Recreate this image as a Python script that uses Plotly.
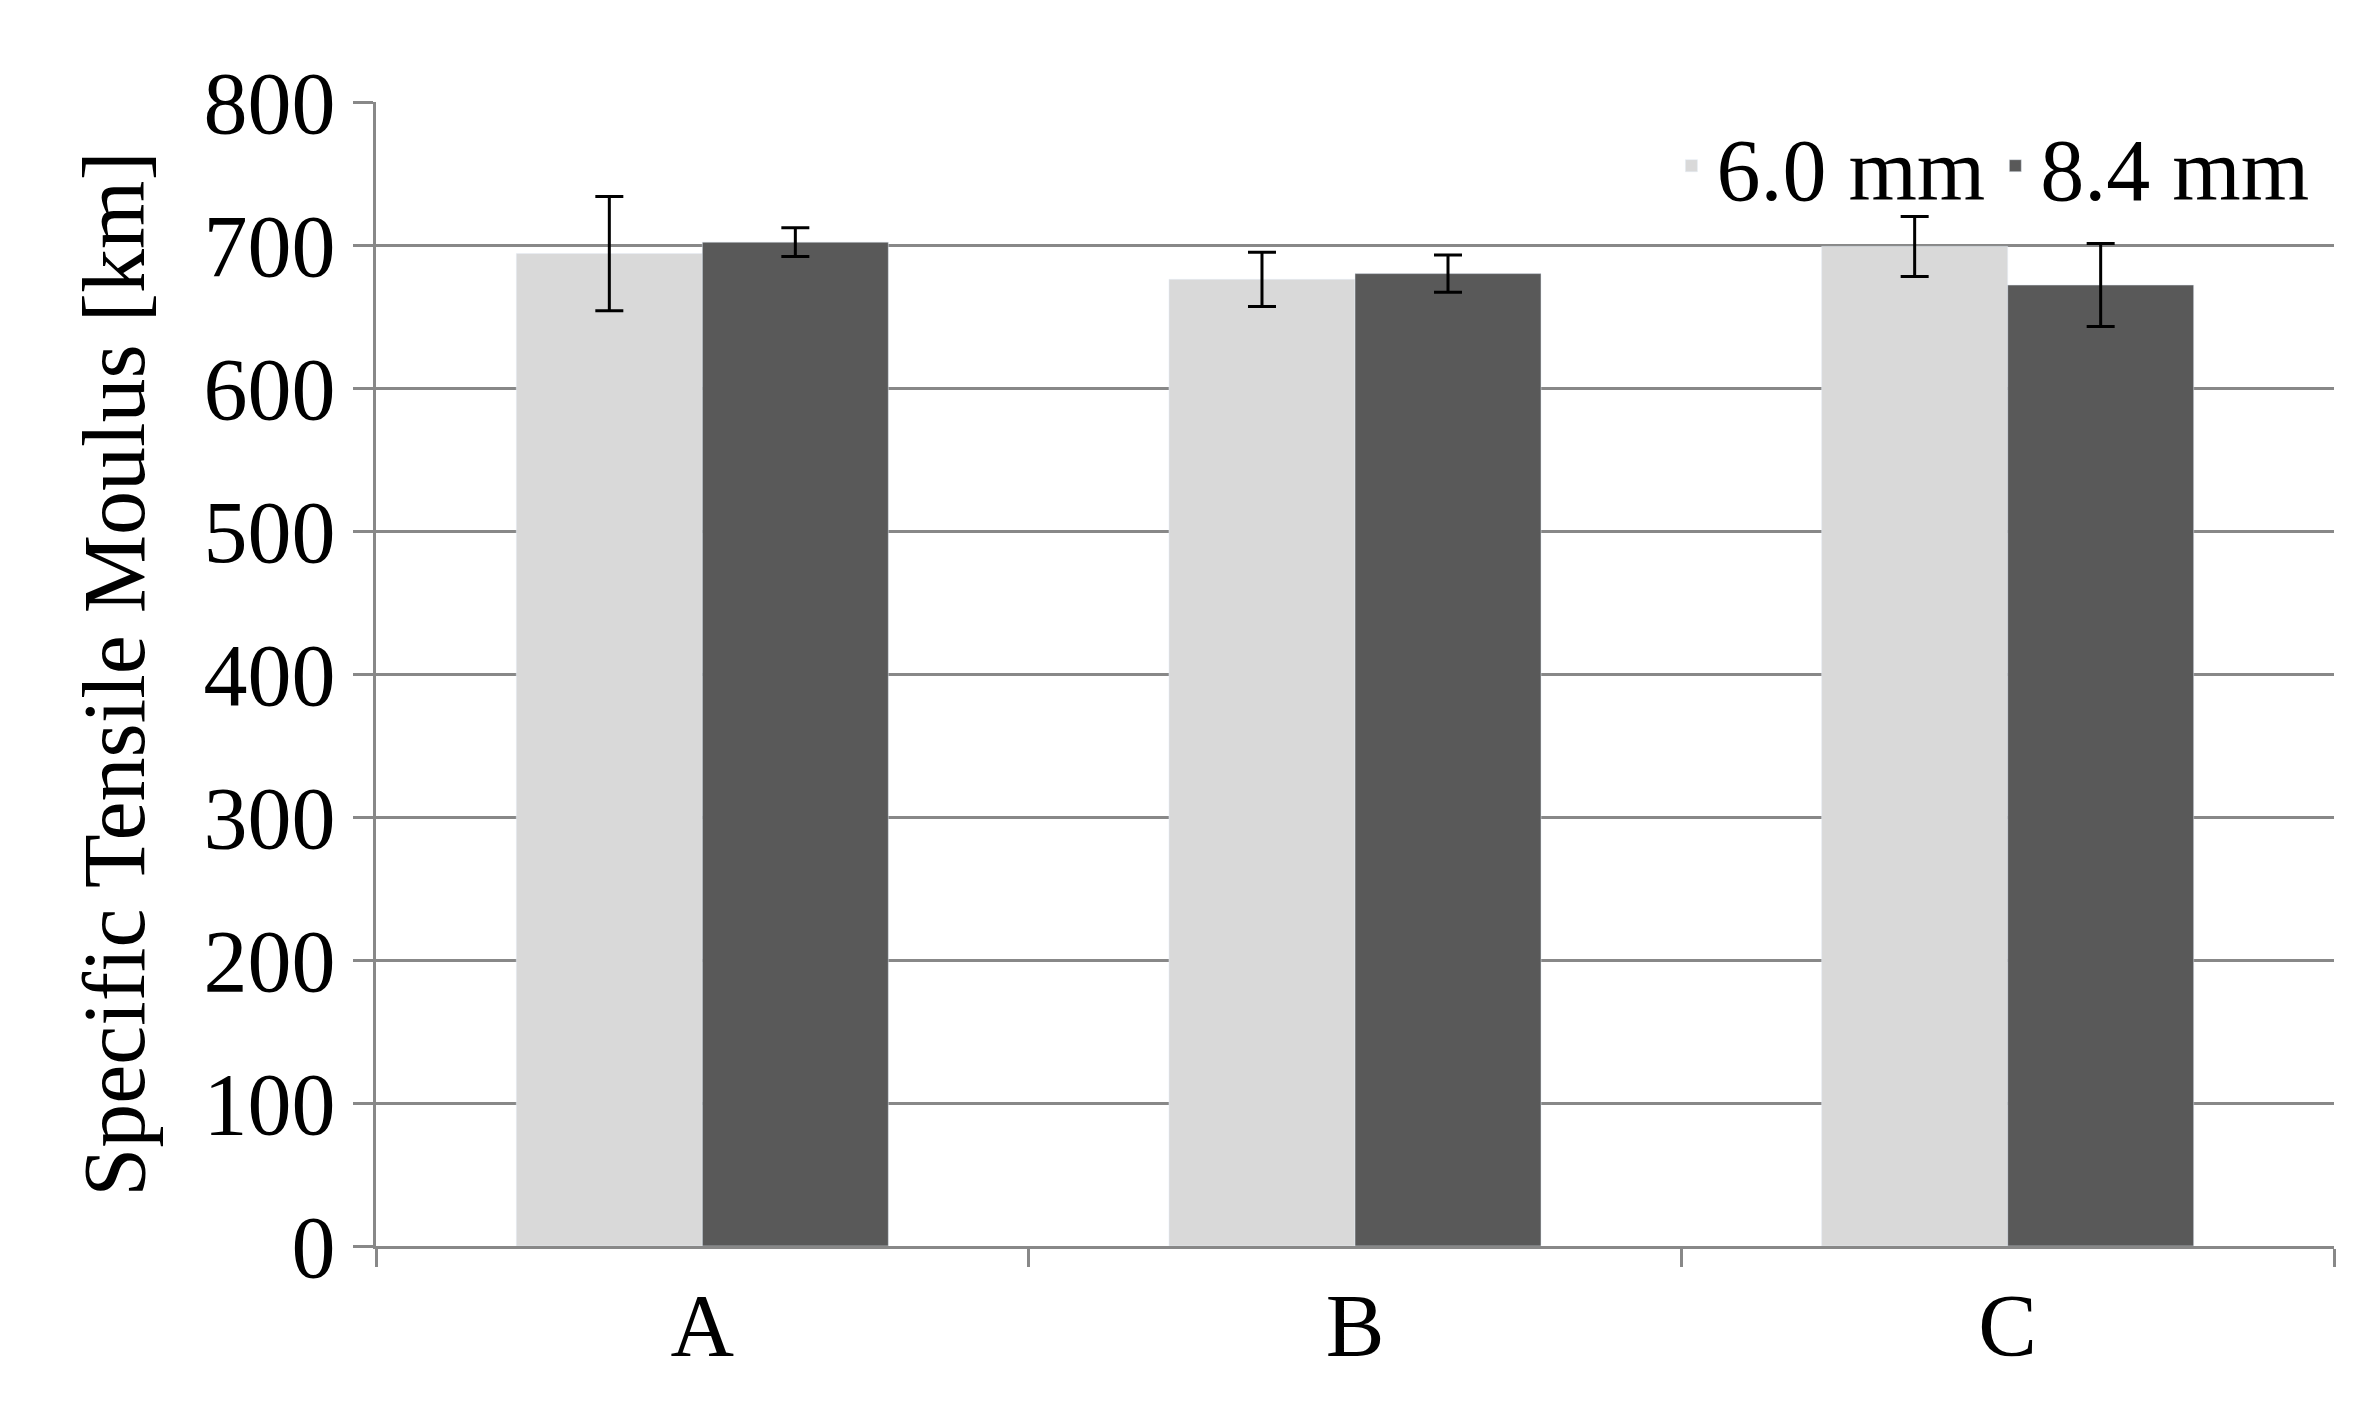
import plotly.graph_objects as go

categories = ["A", "B", "C"]
mean_60 = [694, 676, 699]
err_60 = [40, 19, 21]
mean_84 = [702, 680, 672]
err_84 = [10, 13, 29]

font = dict(family="Liberation Serif", size=88, color="black")
errstyle = dict(type="data", visible=True, color="black", thickness=3, width=14)

fig = go.Figure()
fig.add_trace(go.Bar(x=categories, y=mean_60, name="6.0 mm", marker_color="#d9d9d9",
                     error_y=dict(array=err_60, **errstyle)))
fig.add_trace(go.Bar(x=categories, y=mean_84, name="8.4 mm", marker_color="#595959",
                     error_y=dict(array=err_84, **errstyle)))

fig.update_layout(
    width=2364, height=1404,
    margin=dict(l=368, r=38, t=94, b=166),
    plot_bgcolor="white", paper_bgcolor="white",
    font=font,
    barmode="group", bargap=0.43, bargroupgap=0,
    legend=dict(orientation="h", x=0.99, xanchor="right", y=1.0, yanchor="top",
                font=font, bgcolor="rgba(0,0,0,0)", itemwidth=40),
)
fig.update_xaxes(showline=True, linecolor="#888888", linewidth=3,
                 ticks="outside", tickson="boundaries", ticklen=18, tickwidth=3,
                 tickcolor="#888888", tickfont=font)
fig.update_yaxes(range=[0, 800], dtick=100, showgrid=True, gridcolor="#888888", gridwidth=3,
                 showline=True, linecolor="#888888", linewidth=3,
                 ticks="outside", ticklen=20, tickwidth=3, tickcolor="#888888",
                 zeroline=False, tickfont=font,
                 title=dict(text="Specific Tensile Moulus [km]", font=font, standoff=30))
fig.write_html("out.html")
